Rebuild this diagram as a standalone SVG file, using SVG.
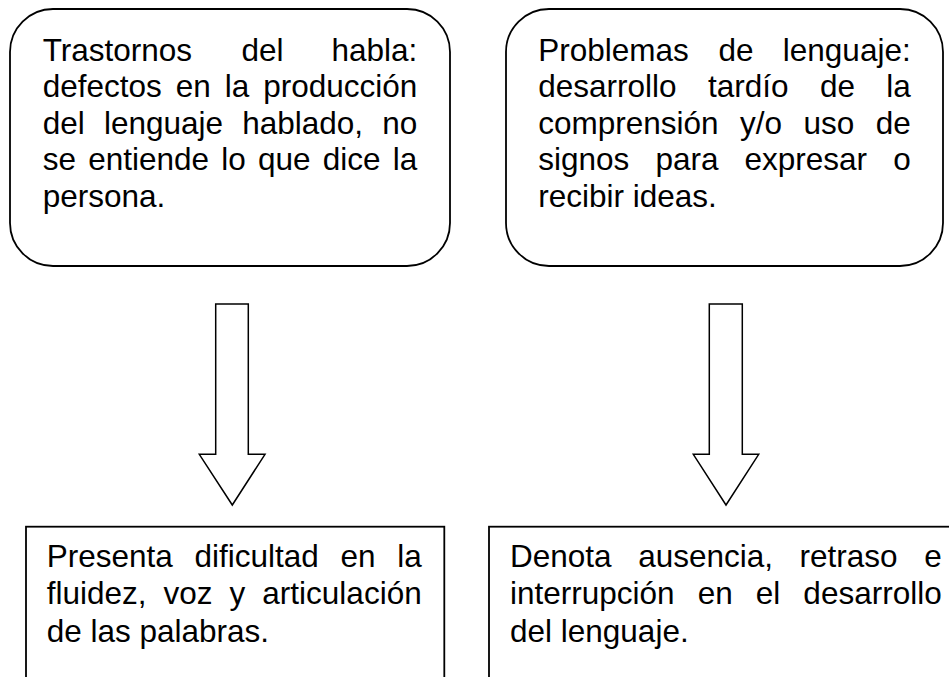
<svg xmlns="http://www.w3.org/2000/svg" width="949" height="677" viewBox="0 0 949 677">
<style>
.box{fill:#fff;stroke:#000;stroke-width:1.8}
.arr{fill:#fff;stroke:#000;stroke-width:1.5;stroke-linejoin:miter}
text{font-family:"Liberation Sans",Arial,sans-serif;font-size:31.5px;fill:#000}
</style>
<rect width="949" height="677" fill="#fff"/>
<g id="node-habla">
<rect class="box" x="10" y="9" width="440" height="257" rx="43" ry="43"/>
<text y="61"><tspan x="42.7">Trastornos</tspan><tspan x="241.4">del</tspan><tspan x="417.3" text-anchor="end">habla:</tspan></text>
<text y="97"><tspan x="42.7">defectos</tspan><tspan x="175.8">en</tspan><tspan x="224.7">la</tspan><tspan x="417.3" text-anchor="end">producción</tspan></text>
<text y="133.5"><tspan x="42.7">del</tspan><tspan x="103.9">lenguaje</tspan><tspan x="242.2">hablado,</tspan><tspan x="417.3" text-anchor="end">no</tspan></text>
<text y="170"><tspan x="42.7">se</tspan><tspan x="88.2">entiende</tspan><tspan x="221.3">lo</tspan><tspan x="258">que</tspan><tspan x="322.8">dice</tspan><tspan x="417.3" text-anchor="end">la</tspan></text>
<text x="42.7" y="206.5">persona.</text>
</g>
<g id="node-lenguaje">
<rect class="box" x="506" y="9" width="437" height="257" rx="43" ry="43"/>
<text y="61"><tspan x="538.3">Problemas</tspan><tspan x="718.4">de</tspan><tspan x="910.7" text-anchor="end">lenguaje:</tspan></text>
<text y="97"><tspan x="538.3">desarrollo</tspan><tspan x="708">tardío</tspan><tspan x="819.9">de</tspan><tspan x="910.7" text-anchor="end">la</tspan></text>
<text y="133.5"><tspan x="538.3">comprensión</tspan><tspan x="740">y/o</tspan><tspan x="803.4">uso</tspan><tspan x="910.7" text-anchor="end">de</tspan></text>
<text y="170"><tspan x="538.3">signos</tspan><tspan x="655.4">para</tspan><tspan x="744.5">expresar</tspan><tspan x="910.7" text-anchor="end">o</tspan></text>
<text x="538.3" y="206.5">recibir ideas.</text>
</g>
<g id="connectors">
<polygon class="arr" points="215.7,304 248.3,304 248.3,454.3 265,454.3 232.3,505 199.3,454.3 215.7,454.3"/>
<polygon class="arr" points="709.3,304 742.3,304 742.3,454.3 758.7,454.3 726,505 693.3,454.3 709.3,454.3"/>
</g>
<g id="node-dificultad">
<rect class="box" x="26" y="526.7" width="418.3" height="170"/>
<text y="566.7"><tspan x="46.7">Presenta</tspan><tspan x="194.5">dificultad</tspan><tspan x="340.5">en</tspan><tspan x="421.7" text-anchor="end">la</tspan></text>
<text y="604"><tspan x="46.7">fluidez,</tspan><tspan x="163.5">voz</tspan><tspan x="229.6">y</tspan><tspan x="421.7" text-anchor="end">articulación</tspan></text>
<text x="46.7" y="641.7">de las palabras.</text>
</g>
<g id="node-ausencia">
<rect class="box" x="489" y="526.7" width="480" height="170"/>
<text y="566.7"><tspan x="510">Denota</tspan><tspan x="638.2">ausencia,</tspan><tspan x="799.6">retraso</tspan><tspan x="941.7" text-anchor="end">e</tspan></text>
<text y="604"><tspan x="510">interrupción</tspan><tspan x="697.7">en</tspan><tspan x="755.8">el</tspan><tspan x="941.7" text-anchor="end">desarrollo</tspan></text>
<text x="510" y="641.7">del lenguaje.</text>
</g>
</svg>
